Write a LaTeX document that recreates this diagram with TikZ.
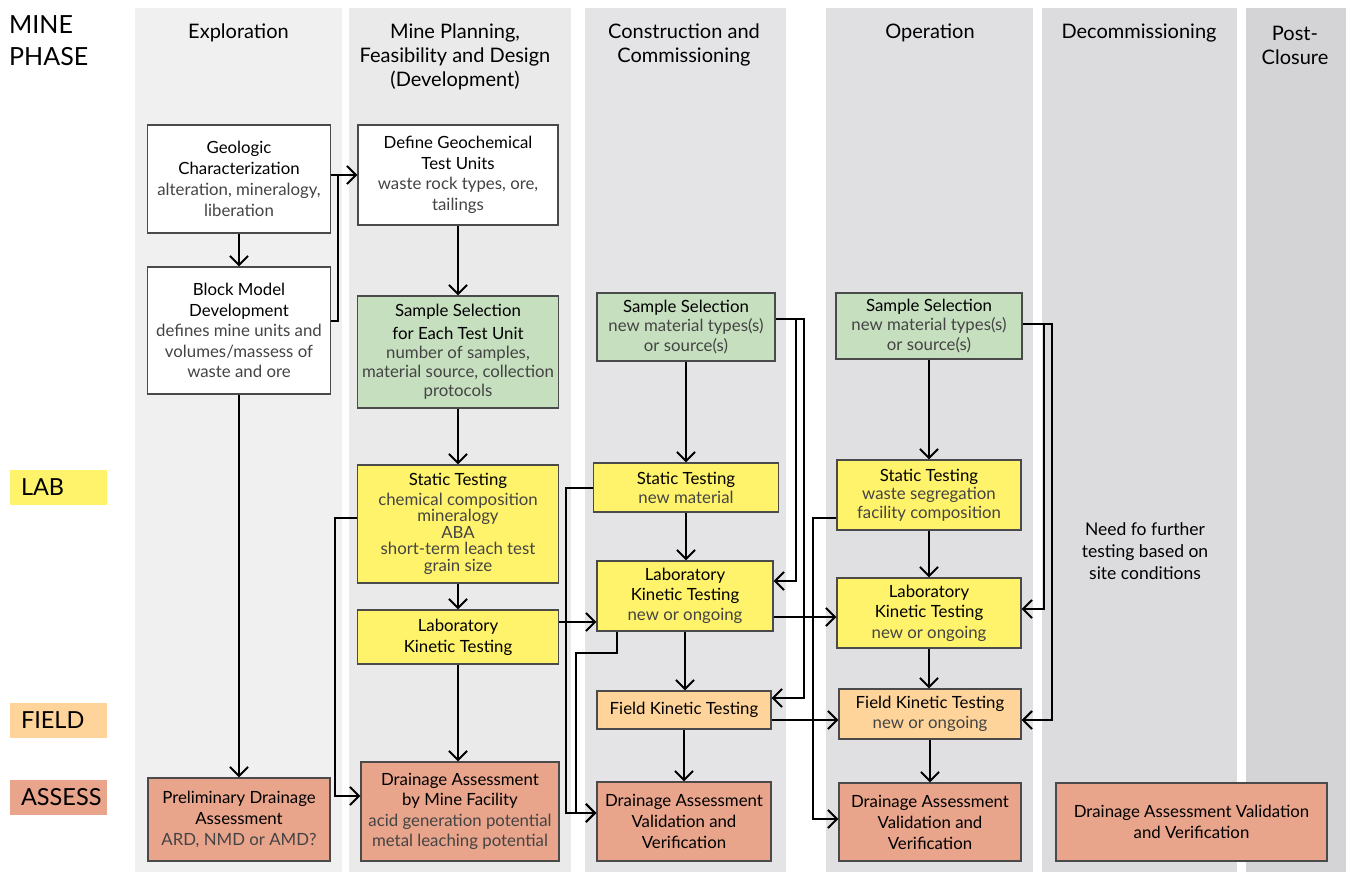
\documentclass[tikz,border=0pt]{standalone}
\usepackage{fontspec}
\setmainfont{Lato}
\usetikzlibrary{arrows.meta}
\definecolor{bgA}{HTML}{F0F0F0}
\definecolor{bgB}{HTML}{EAEAEA}
\definecolor{bgC}{HTML}{E4E4E6}
\definecolor{bgD}{HTML}{E0E0E2}
\definecolor{bgE}{HTML}{DCDCDE}
\definecolor{bgF}{HTML}{D4D4D6}
\definecolor{boxgreen}{HTML}{C6DFBF}
\definecolor{boxyellow}{HTML}{FFF36B}
\definecolor{boxpeach}{HTML}{FFD49B}
\definecolor{boxsalmon}{HTML}{E9A48C}
\definecolor{boxline}{HTML}{4A4A4A}
\definecolor{subc}{HTML}{444444}
\newcommand{\subtx}{\color{subc}}
\tikzset{
  box/.style={draw=boxline, line width=1.3pt, align=center, inner sep=1pt,
    font=\fontsize{16.8}{21}\selectfont, text=black},
  arr/.style={draw=black, line width=2pt, -{Straight Barb[length=9pt,width=18pt]}},
  con/.style={draw=black, line width=2pt},
  hdr/.style={align=center, font=\fontsize{20}{24}\selectfont, inner sep=0pt},
  tagbox/.style={align=left, text width=75pt, inner sep=0pt, inner xsep=11pt,
    minimum height=35pt, font=\fontsize{23.5}{26}\selectfont},
}
\begin{document}
\begin{tikzpicture}[x=1pt,y=-1pt]
\useasboundingbox (0,0) rectangle (1346,872);
\fill[white] (0,0) rectangle (1346,872);
% phase columns
\fill[bgA] (135,8) rectangle (342,872);
\fill[bgB] (349,8) rectangle (571,872);
\fill[bgC] (585,8) rectangle (786,872);
\fill[bgD] (826,8) rectangle (1033,872);
\fill[bgE] (1042,8) rectangle (1237,872);
\fill[bgF] (1246,8) rectangle (1346,872);

% headers
\node[anchor=west, align=left, inner sep=0pt, font=\fontsize{25}{32}\selectfont] (mine) at (9,41) {MINE\\PHASE};
\node[hdr] (h1) at (238.5,33) {Exploration};
\node[hdr] (h2) at (455,57) {Mine Planning,\\Feasibility and Design\\(Development)};
\node[hdr] (h3) at (684,45) {Construction and\\Commissioning};
\node[hdr] (h4) at (930,33) {Operation};
\node[hdr] (h5) at (1139,33) {Decommissioning};
\node[hdr] (h6) at (1295,45) {Post-\\Closure};

% row tags
\node[tagbox, fill=boxyellow] (lab) at (58.5,487.5) {LAB};
\node[tagbox, fill=boxpeach] (field) at (58.5,720.5) {FIELD};
\node[tagbox, fill=boxsalmon] (assess) at (58.5,797) {ASSESS};

% Exploration
\node[box, fill=white, minimum width=183pt, minimum height=108pt] (g1) at (239,179)
  {Geologic\\Characterization\\{\subtx alteration, mineralogy,}\\{\subtx liberation}};
\node[box, fill=white, minimum width=183pt, minimum height=127pt, font=\fontsize{16.8}{20.5}\selectfont] (g2) at (239,330.5)
  {Block Model\\Development\\{\subtx defines mine units and}\\{\subtx volumes/massess of}\\{\subtx waste and ore}};
\node[box, fill=boxsalmon, minimum width=182pt, minimum height=83pt] (g3) at (239,819.5)
  {Preliminary Drainage\\Assessment\\{\subtx ARD, NMD or AMD?}};

% Development
\node[box, fill=white, minimum width=200pt, minimum height=100pt, font=\fontsize{16.8}{20.5}\selectfont] (d1) at (458,175)
  {Define Geochemical\\Test Units\\{\subtx waste rock types, ore,}\\{\subtx tailings}};
\node[box, fill=boxgreen, minimum width=201pt, minimum height=112pt, font=\fontsize{16.8}{19}\selectfont] (d2) at (458,352)
  {Sample Selection\\[4pt]for Each Test Unit\\{\subtx number of samples,}\\{\subtx material source, collection}\\{\subtx protocols}};
\node[box, fill=boxyellow, minimum width=201pt, minimum height=118pt, font=\fontsize{16.8}{16.5}\selectfont] (d3) at (458,524)
  {Static Testing\\[3pt]{\subtx chemical composition}\\{\subtx mineralogy}\\{\subtx ABA}\\{\subtx short-term leach test}\\{\subtx grain size}};
\node[box, fill=boxyellow, minimum width=201pt, minimum height=54pt] (d4) at (458,637)
  {Laboratory\\Kinetic Testing};
\node[box, fill=boxsalmon, minimum width=198pt, minimum height=99pt, font=\fontsize{16.8}{20.5}\selectfont] (d5) at (460,811.5)
  {Drainage Assessment\\by Mine Facility\\{\subtx acid generation potential}\\{\subtx metal leaching potential}};

% Construction
\node[box, fill=boxgreen, minimum width=178pt, minimum height=68pt, font=\fontsize{16.8}{19.5}\selectfont] (c1) at (686,327)
  {Sample Selection\\{\subtx new material types(s)}\\{\subtx or source(s)}};
\node[box, fill=boxyellow, minimum width=185pt, minimum height=49pt, font=\fontsize{16.8}{19}\selectfont] (c2) at (686,487.5)
  {Static Testing\\{\subtx new material}};
\node[box, fill=boxyellow, minimum width=176pt, minimum height=70pt, font=\fontsize{16.8}{20}\selectfont] (c3) at (685,596)
  {Laboratory\\Kinetic Testing\\{\subtx new or ongoing}};
\node[box, fill=boxpeach, minimum width=174pt, minimum height=38pt] (c4) at (684,710)
  {Field Kinetic Testing};
\node[box, fill=boxsalmon, minimum width=174pt, minimum height=79pt] (c5) at (684,821.5)
  {Drainage Assessment\\Validation and\\Verification};

% Operation
\node[box, fill=boxgreen, minimum width=186pt, minimum height=66pt, font=\fontsize{16.8}{19.5}\selectfont] (o1) at (929,326)
  {Sample Selection\\{\subtx new material types(s)}\\{\subtx or source(s)}};
\node[box, fill=boxyellow, minimum width=184pt, minimum height=70pt, font=\fontsize{16.8}{18.5}\selectfont] (o2) at (929,495)
  {Static Testing\\{\subtx waste segregation}\\{\subtx facility composition}};
\node[box, fill=boxyellow, minimum width=184pt, minimum height=70pt, font=\fontsize{16.8}{20.5}\selectfont] (o3) at (929,613)
  {Laboratory\\Kinetic Testing\\{\subtx new or ongoing}};
\node[box, fill=boxpeach, minimum width=182pt, minimum height=50pt, font=\fontsize{16.8}{20}\selectfont] (o4) at (930,714)
  {Field Kinetic Testing\\{\subtx new or ongoing}};
\node[box, fill=boxsalmon, minimum width=182pt, minimum height=78pt] (o5) at (930,822)
  {Drainage Assessment\\Validation and\\Verification};

% Decommissioning
\node[align=center, inner sep=0pt, font=\fontsize{17.5}{22}\selectfont] (note) at (1145,551)
  {Need fo further\\testing based on\\site conditions};
\node[box, fill=boxsalmon, minimum width=271pt, minimum height=78pt] (dc1) at (1191.5,822)
  {Drainage Assessment Validation\\and Verification};

% connectors: exploration / development
\draw[arr] (g1.south) -- (g2.north);
\draw[arr] (g1.east |- d1.west) -- (d1.west);
\draw[con] ([yshift=9.5pt]g2.east) -| ([xshift=-19pt]d1.west);
\draw[arr] (g2.south) -- (g2.south |- g3.north);
\draw[arr] (d1.south) -- (d1.south |- d2.north);
\draw[arr] (d2.south) -- (d3.north);
\draw[arr] (d3.south) -- (d4.north);
\draw[arr] (d4.south) -- (d4.south |- d5.north);
\draw[arr] ([yshift=6pt]d3.west) -- ++(-22,0) |- ([yshift=15.5pt]d5.west);

% development -> construction
\draw[arr] ([yshift=15pt]d4.east) -- ([yshift=-26pt]c3.west);
\draw[arr] (c2.west) -- ++(-27,0) |- ([yshift=8.5pt]c5.west);
\draw[arr] ([xshift=-68pt]c3.south) -- ++(0,21) -- ++(-41,0) |- ([yshift=8.5pt]c5.west);

% construction
\draw[arr] (c1.south) -- (c1.south |- c2.north);
\draw[arr] (c2.south) -- (c2.south |- c3.north);
\draw[arr] (c3.south) -- (c3.south |- c4.north);
\draw[arr] (c4.south) -- (c4.south |- c5.north);
\draw[arr] ([yshift=8pt]c1.east) -- ++(20,0) |- ([yshift=15pt]c3.east);
\draw[arr] ([yshift=8pt]c1.east) -- ++(28,0) |- ([yshift=12pt]c4.east);

% construction -> operation
\draw[arr] ([yshift=-21pt]c3.east) -- ([yshift=-4pt]o3.west);
\draw[arr] ([yshift=-10pt]c4.east) -- ([yshift=-6pt]o4.west);
\draw[arr] ([yshift=-23pt]o2.west) -- ++(-23,0) |- ([yshift=3pt]o5.west);

% operation
\draw[arr] (o1.south) -- (o1.south |- o2.north);
\draw[arr] (o2.south) -- (o2.south |- o3.north);
\draw[arr] (o3.south) -- (o3.south |- o4.north);
\draw[arr] (o4.south) -- (o4.south |- o5.north);
\draw[arr] ([yshift=2pt]o1.east) -- ++(21,0) |- ([yshift=4pt]o3.east);
\draw[arr] ([yshift=2pt]o1.east) -- ++(29,0) |- ([yshift=-6pt]o4.east);
\end{tikzpicture}
\end{document}
